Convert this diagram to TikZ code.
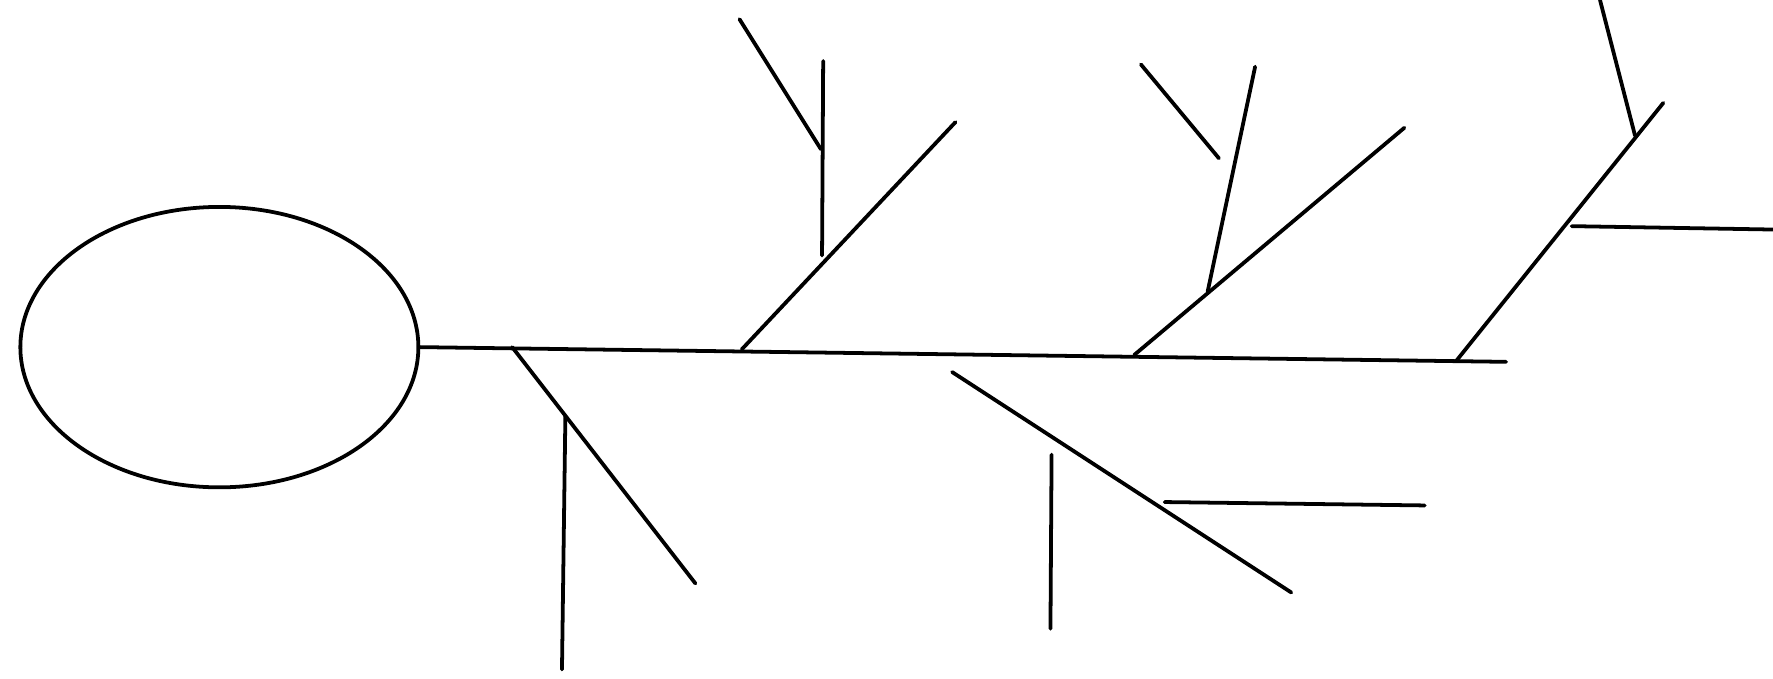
\documentclass[tikz,border=0pt]{standalone}
\usetikzlibrary{shapes.geometric}
\begin{document}
\begin{tikzpicture}[x=0.1mm,y=-0.1mm,
  bone/.style={line width=0.95pt,line cap=round},
  headshape/.style={draw,ellipse,line width=0.95pt,minimum width=35.2mm,minimum height=24.8mm,inner sep=0pt}]
\useasboundingbox (0,0) rectangle (1568,600);
% head
\node[headshape] (head) at (194,307) {};
% spine
\coordinate (tail) at (1332,320);
% bone 1 (lower left)
\coordinate (b1s) at (453,307); \coordinate (b1e) at (615,516);
\coordinate (v1t) at (500,368); \coordinate (v1b) at (497,592);
% bone 2 (upper)
\coordinate (b2s) at (656,309); \coordinate (b2e) at (845,108);
\coordinate (v2t) at (728,54);  \coordinate (v2b) at (727,226);
\coordinate (d2s) at (654,17);  \coordinate (d2e) at (726,132);
% bone 3 (upper)
\coordinate (b3s) at (1003,314); \coordinate (b3e) at (1242,113);
\coordinate (s3t) at (1110,59);  \coordinate (s3b) at (1068,258);
\coordinate (t3s) at (1009,57);  \coordinate (t3e) at (1078,140);
% bone 4 (lower, detached)
\coordinate (b4s) at (842,329);  \coordinate (b4e) at (1142,524);
\coordinate (v4t) at (930,402);  \coordinate (v4b) at (929,556);
\coordinate (h4s) at (1030,444); \coordinate (h4e) at (1260,447);
% bone 5 (upper right)
\coordinate (b5s) at (1288,319); \coordinate (b5e) at (1471,91);
\coordinate (s5t) at (1415,0);   \coordinate (s5b) at (1446,120);
\coordinate (h5s) at (1390,200); \coordinate (h5e) at (1568,203);

\draw[bone] (head.east) -- (tail);
\draw[bone] (b1s) -- (b1e);
\draw[bone] (v1t) -- (v1b);
\draw[bone] (b2s) -- (b2e);
\draw[bone] (v2t) -- (v2b);
\draw[bone] (d2s) -- (d2e);
\draw[bone] (b3s) -- (b3e);
\draw[bone] (s3t) -- (s3b);
\draw[bone] (t3s) -- (t3e);
\draw[bone] (b4s) -- (b4e);
\draw[bone] (v4t) -- (v4b);
\draw[bone] (h4s) -- (h4e);
\draw[bone] (b5s) -- (b5e);
\draw[bone] (s5t) -- (s5b);
\draw[bone] (h5s) -- (h5e);
\end{tikzpicture}
\end{document}
